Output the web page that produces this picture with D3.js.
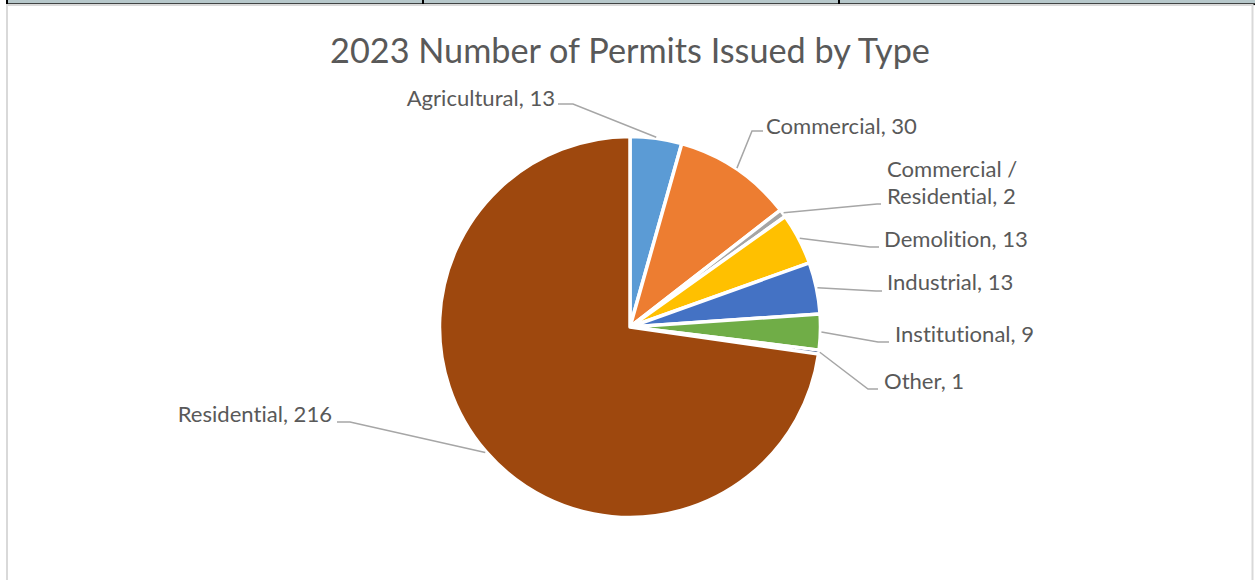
<!DOCTYPE html>
<html>
<head>
<meta charset="utf-8">
<script src="https://cdn.jsdelivr.net/npm/d3@7"></script>
<style>
  body { margin: 0; background: #fff; }
  svg { display: block; font-family: Lato, "Open Sans", sans-serif; font-variant-ligatures: none; }
</style>
</head>
<body>
<svg width="1255" height="580"></svg>
<script>
// chart data
var categories = ['Agricultural', 'Commercial', 'Commercial / Residential', 'Demolition',
                  'Industrial', 'Institutional', 'Other', 'Residential'];
var counts = [13, 30, 2, 13, 13, 9, 1, 216];
var sliceColors = ['#5b9bd5', '#ed7d31', '#a5a5a5', '#ffc000', '#4472c4', '#70ad47', '#264478', '#9e480e'];
// label text lines (Excel wraps the long one)
var labelLines = [['Agricultural, 13'], ['Commercial, 30'], ['Commercial /', 'Residential, 2'],
                  ['Demolition, 13'], ['Industrial, 13'], ['Institutional, 9'], ['Other, 1'], ['Residential, 216']];

// where Excel put each data label: text anchor, baseline, elbow of leader, end of leader
var labelLayout = [
    {x: 555, y: 106, anchor: 'end',   elbow: [573, 104], hook: [558, 104]},
    {x: 766, y: 134, anchor: 'start', elbow: [752, 131], hook: [763, 131]},
    {x: 887, y: 177, anchor: 'start', elbow: [877, 204], hook: [881, 204]},
    {x: 884, y: 247, anchor: 'start', elbow: [870, 247], hook: [879, 247]},
    {x: 887, y: 290, anchor: 'start', elbow: [876, 291], hook: [882, 291]},
    {x: 895, y: 342, anchor: 'start', elbow: [878, 342], hook: [889, 342]},
    {x: 884, y: 389, anchor: 'start', elbow: [868, 389], hook: [878, 389]},
    {x: 332, y: 422, anchor: 'end',   elbow: [350, 422], hook: [337, 422]}
];

var svg = d3.select('svg');
var cx = 630, cy = 327, radius = 190.5;
var textColor = '#595959';

// table strip at the very top of the screenshot
svg.append('rect').attr('x', 8).attr('y', 0).attr('width', 1247).attr('height', 3.5).attr('fill', '#b7c8cb');
svg.append('rect').attr('x', 6).attr('y', 3.3).attr('width', 1249).attr('height', 1.8).attr('fill', '#000');
[6, 422, 838].forEach(function(x) {
    svg.append('rect').attr('x', x).attr('y', 0).attr('width', 2).attr('height', 5).attr('fill', '#000');
});
// chart area border
svg.append('rect').attr('x', 7).attr('y', 5).attr('width', 1245.5).attr('height', 600)
    .attr('fill', 'none').attr('stroke', '#d9d9d9').attr('stroke-width', 2);

// work out a font size that gives a wanted text width (Calibri is not here)
function fitSize(str, width) {
    var t = svg.append('text').attr('font-size', 100).text(str);
    var w = t.node().getComputedTextLength();
    t.remove();
    return 100 * width / w;
}
var titleSize = fitSize('2023 Number of Permits Issued by Type', 600);
var labelSize = fitSize('Commercial, 30', 151);

svg.append('text')
    .attr('x', cx)
    .attr('y', 63)
    .attr('text-anchor', 'middle')
    .attr('fill', textColor)
    .attr('font-size', titleSize)
    .text('2023 Number of Permits Issued by Type');

var pie = d3.pie().sort(null).value(function(d) { return d; });
var arcs = pie(counts);
var arc = d3.arc().innerRadius(0).outerRadius(radius);
var edgeArc = d3.arc().innerRadius(radius + 1).outerRadius(radius + 1);

var chartG = svg.append('g').attr('transform', 'translate(' + [cx, cy] + ')');

chartG.selectAll('.slice')
    .data(arcs)
    .enter()
    .append('path')
    .attr('class', 'slice')
    .attr('d', arc)
    .attr('fill', function(d, i) { return sliceColors[i]; })
    .attr('stroke', '#fff')
    .attr('stroke-width', 3.5)
    .attr('stroke-linejoin', 'round');

// leader lines
svg.selectAll('.leader')
    .data(arcs)
    .enter()
    .append('polyline')
    .attr('class', 'leader')
    .attr('points', function(d, i) {
        var c = edgeArc.centroid(d);
        var lay = labelLayout[i];
        return [[cx + c[0], cy + c[1]], lay.elbow, lay.hook].join(' ');
    })
    .attr('fill', 'none')
    .attr('stroke', '#a6a6a6')
    .attr('stroke-width', 1.5);

// data labels
var labels = svg.selectAll('.label')
    .data(categories)
    .enter()
    .append('text')
    .attr('class', 'label')
    .attr('fill', textColor)
    .attr('font-size', labelSize)
    .attr('text-anchor', function(d, i) { return labelLayout[i].anchor; });

labels.each(function(d, i) {
    var lay = labelLayout[i];
    d3.select(this).selectAll('tspan')
        .data(labelLines[i])
        .enter()
        .append('tspan')
        .attr('x', lay.x)
        .attr('y', function(s, j) { return lay.y + j * 27; })
        .text(function(s) { return s; });
});
</script>
</body>
</html>
